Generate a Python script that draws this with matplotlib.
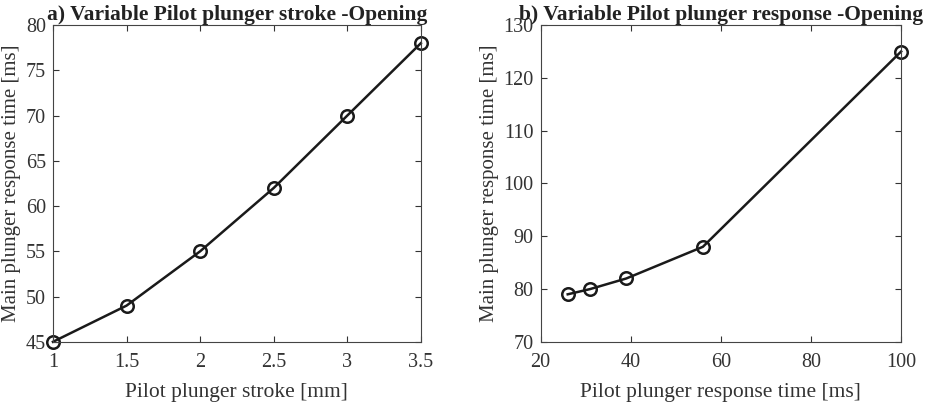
import matplotlib
matplotlib.use("Agg")
import matplotlib.pyplot as plt

plt.rcParams['font.family'] = ['Liberation Serif', 'DejaVu Serif']

stroke_mm = [1.0, 1.5, 2.0, 2.5, 3.0, 3.5]
resp_a_ms = [45, 49, 55, 62, 70, 78]

pilot_resp_ms = [26, 31, 39, 56, 100]
resp_b_ms = [79, 80, 82, 88, 125]

xticks_a = [1, 1.5, 2, 2.5, 3, 3.5]
xticklabels_a = ['1', '1.5', '2', '2.5', '3', '3.5']
yticks_a = [45, 50, 55, 60, 65, 70, 75, 80]
xticks_b = [20, 40, 60, 80, 100]
yticks_b = [70, 80, 90, 100, 110, 120, 130]

fig = plt.figure(figsize=(9.29, 4.05), dpi=100)
ax1 = fig.add_axes([0.057, 0.156, 0.396, 0.782])
ax2 = fig.add_axes([0.582, 0.156, 0.388, 0.782])

def style(ax):
    ax.tick_params(direction='in', top=True, right=True, labelsize=14.5,
                   length=4, width=0.8, colors='#333333', labelcolor='#333333')
    ax.tick_params(axis='x', pad=8)
    ax.tick_params(axis='y', pad=5)
    for s in ax.spines.values():
        s.set_color('#444444')
        s.set_linewidth(0.8)

ax1.plot(stroke_mm, resp_a_ms, '-o', color='#1a1a1a', lw=1.8, ms=9,
         mfc='none', mew=1.8, clip_on=False)
ax1.set_xlim(1, 3.5)
ax1.set_ylim(45, 80)
ax1.set_xticks(xticks_a)
ax1.set_xticklabels(xticklabels_a)
ax1.set_yticks(yticks_a)
ax1.set_xlabel('Pilot plunger stroke [mm]', fontsize=15.5, color='#333333')
ax1.set_ylabel('Main plunger response time [ms]', fontsize=15, color='#333333')
ax1.set_title('a) Variable Pilot plunger stroke -Opening', fontsize=15.5,
              fontweight='bold', color='#222222', pad=4)
ax1.xaxis.set_label_coords(0.5, -0.13)
ax1.yaxis.set_label_coords(-0.088, 0.5)
style(ax1)

ax2.plot(pilot_resp_ms, resp_b_ms, '-o', color='#1a1a1a', lw=1.8, ms=9,
         mfc='none', mew=1.8, clip_on=False)
ax2.set_xlim(20, 100)
ax2.set_ylim(70, 130)
ax2.set_xticks(xticks_b)
ax2.set_yticks(yticks_b)
ax2.set_xlabel('Pilot plunger response time [ms]', fontsize=15.5, color='#333333')
ax2.set_ylabel('Main plunger response time [ms]', fontsize=15, color='#333333')
ax2.set_title('b) Variable Pilot plunger response -Opening', fontsize=15.5,
              fontweight='bold', color='#222222', pad=4)
ax2.xaxis.set_label_coords(0.5, -0.13)
ax2.yaxis.set_label_coords(-0.115, 0.5)
style(ax2)

fig.savefig('out.png', dpi=100)
